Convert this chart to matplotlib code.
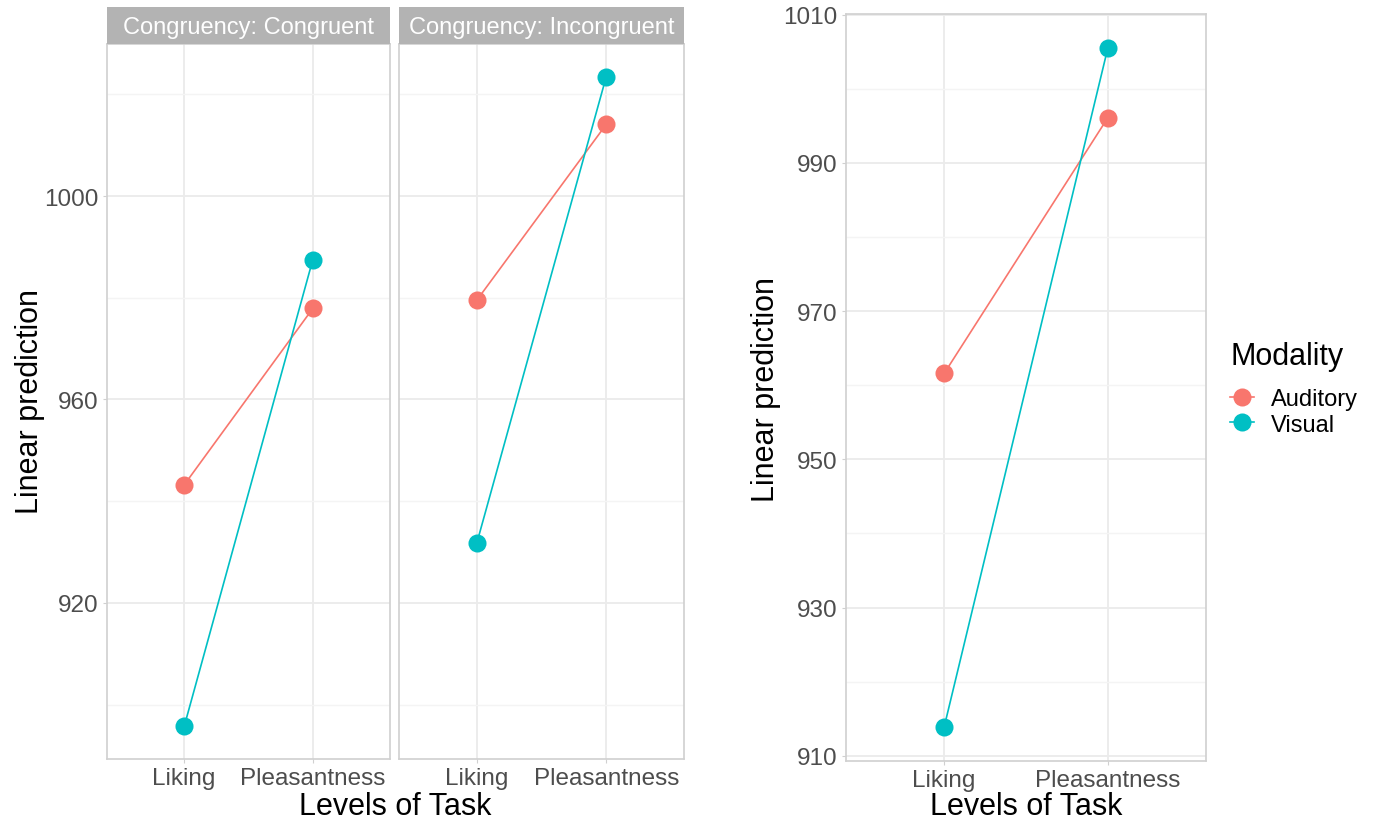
import matplotlib
matplotlib.use("Agg")
import matplotlib.pyplot as plt
from matplotlib.lines import Line2D
import numpy as np

plt.rcParams['font.family'] = ['Liberation Sans', 'DejaVu Sans']

# ---- data ----
tasks = ['Liking', 'Pleasantness']
facets = ['Congruency: Congruent', 'Congruency: Incongruent']
modalities = ['Auditory', 'Visual']
congruent_auditory = [943.2, 977.9]
congruent_visual = [895.7, 987.5]
incongruent_auditory = [979.5, 1014.1]
incongruent_visual = [931.7, 1023.5]
overall_auditory = [961.6, 996.1]
overall_visual = [913.9, 1005.5]

left_major = [920, 960, 1000]
left_minor = [900, 940, 980, 1020]
right_major = [910, 930, 950, 970, 990, 1010]
right_minor = [920, 940, 960, 980, 1000]

colors = {'Auditory': '#F8766D', 'Visual': '#00BFC4'}

W, H = 1376, 820
fig = plt.figure(figsize=(W / 100, H / 100), dpi=100)


def px_axes(x0, y0, x1, y1, **kw):
    return fig.add_axes([x0 / W, 1 - y1 / H, (x1 - x0) / W, (y1 - y0) / H], **kw)


def style(ax, major, minor, ylim, show_y=True):
    x = np.arange(len(tasks))
    ax.set_xlim(-0.6, len(tasks) - 0.4)
    ax.set_ylim(*ylim)
    ax.set_xticks(x)
    ax.set_xticklabels(tasks)
    ax.set_yticks(major)
    ax.set_yticks(minor, minor=True)
    if show_y:
        ax.set_yticklabels([str(v) for v in major])
    else:
        ax.set_yticklabels([])
    ax.grid(True, which='major', color='#EBEBEB', linewidth=1.3, zorder=0)
    ax.grid(True, which='minor', axis='y', color='#F4F4F4', linewidth=1.0, zorder=0)
    ax.set_axisbelow(True)
    for s in ax.spines.values():
        s.set_color('#D0D0D0')
        s.set_linewidth(1.2)
    ax.tick_params(axis='both', which='major', length=3, color='#D0D0D0',
                   labelsize=17.5, labelcolor='#4D4D4D', pad=3)
    ax.tick_params(axis='y', which='minor', length=0)
    if not show_y:
        ax.tick_params(axis='y', which='major', length=0)


def draw(ax, aud, vis):
    x = np.arange(len(tasks))
    for vals, m in ((aud, 'Auditory'), (vis, 'Visual')):
        ax.plot(x, vals, color=colors[m], linewidth=1.2, marker='o',
                markersize=13, markeredgewidth=0, zorder=3)


ylim_left = (889.3, 1029.9)
ylim_right = (909.3, 1010.1)

ax1 = px_axes(107, 45, 390, 760)
ax2 = px_axes(399, 45, 684, 760)
draw(ax1, congruent_auditory, congruent_visual)
draw(ax2, incongruent_auditory, incongruent_visual)
style(ax1, left_major, left_minor, ylim_left, show_y=True)
style(ax2, left_major, left_minor, ylim_left, show_y=False)

for (x0, x1), label in zip(((107, 390), (399, 684)), facets):
    sax = px_axes(x0, 8, x1, 45)
    sax.set_facecolor('#B3B3B3')
    sax.set_xticks([])
    sax.set_yticks([])
    for s in sax.spines.values():
        s.set_visible(False)
    sax.text(0.5, 0.47, label, ha='center', va='center', color='white',
             fontsize=17, transform=sax.transAxes)

fig.text(395 / W, 1 - 807 / H, 'Levels of Task', ha='center', va='center', fontsize=22)
fig.text(30 / W, 1 - 402 / H, 'Linear prediction', ha='center', va='center',
         rotation=90, fontsize=22)

ax3 = px_axes(846, 15, 1206, 762)
draw(ax3, overall_auditory, overall_visual)
style(ax3, right_major, right_minor, ylim_right, show_y=True)
fig.text(1026 / W, 1 - 807 / H, 'Levels of Task', ha='center', va='center', fontsize=22)
fig.text(766 / W, 1 - 390 / H, 'Linear prediction', ha='center', va='center',
         rotation=90, fontsize=22)

handles = [Line2D([0], [0], color=colors[m], marker='o', markersize=13,
                  markeredgewidth=0, linewidth=1.2) for m in modalities]
leg = fig.legend(handles, modalities, loc='upper left',
                 bbox_to_anchor=(1221 / W, 1 - 333 / H), frameon=False,
                 title='Modality', fontsize=17, title_fontsize=22,
                 handlelength=1.0, handletextpad=0.7, labelspacing=0.15,
                 borderaxespad=0)
leg._legend_box.align = 'left'
leg._legend_box.sep = 12

fig.savefig('out.png', dpi=100, facecolor='white')
